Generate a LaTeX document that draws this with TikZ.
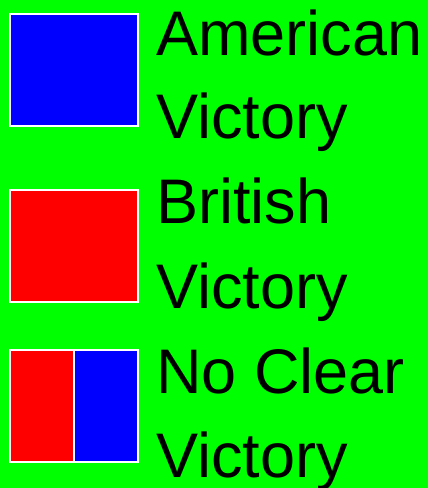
\documentclass[tikz,border=0pt]{standalone}
\usepackage{fontspec}
\setmainfont{Liberation Sans}
\definecolor{bggreen}{RGB}{0,255,0}
\definecolor{usblue}{RGB}{0,0,255}
\definecolor{ukred}{RGB}{255,0,0}
\usetikzlibrary{positioning}
\tikzset{
  swatch/.style={draw=white, line width=2pt, fill=#1, inner sep=0pt,
                 outer sep=0pt, minimum width=128pt, minimum height=112pt},
  halfswatch/.style={draw=white, line width=2pt, fill=#1, inner sep=0pt,
                     outer sep=0pt, minimum width=64pt, minimum height=112pt},
  legtext/.style={anchor=base west, inner sep=0pt,
                  font=\fontsize{63}{76}\selectfont},
}
\begin{document}
\begin{tikzpicture}[x=1pt, y=-1pt]
% Background
\fill[bggreen] (0,0) rectangle (428,488);
\useasboundingbox (0,0) rectangle (428,488);
% American victory
\node[swatch=usblue] (amerbox) at (74,70) {};
\node[legtext] (amerline1) at (156,55) {American};
\node[legtext] (amerline2) at (156,138) {Victory};
% British victory
\node[swatch=ukred] (britbox) at (74,246) {};
\node[legtext] (britline1) at (156,223) {British};
\node[legtext] (britline2) at (156,308) {Victory};
% No clear victory
\node[halfswatch=ukred] (drawleft) at (42,406) {};
\node[halfswatch=usblue, right=0pt of drawleft] (drawright) {};
\node[legtext] (drawline1) at (156,393) {No Clear};
\node[legtext] (drawline2) at (156,477) {Victory};
\end{tikzpicture}
\end{document}
